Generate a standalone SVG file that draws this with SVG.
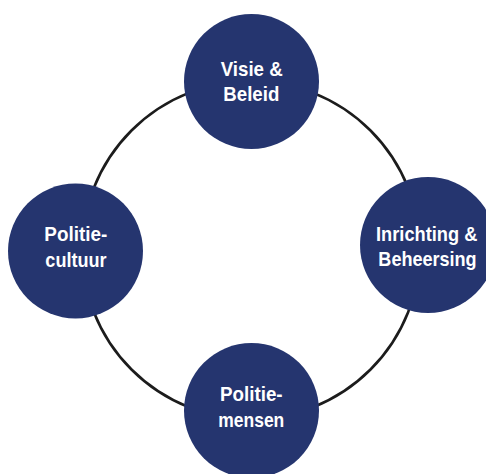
<svg xmlns="http://www.w3.org/2000/svg" width="486" height="474" viewBox="0 0 486 474">
  <style>
    .ring { fill: none; stroke: #1c1c1c; stroke-width: 2.6; }
    .node { fill: #25356f; }
    .label { fill: #ffffff; font-family: "Liberation Sans Narrow", "Liberation Sans", Arial, sans-serif; font-weight: bold; font-size: 21px; text-anchor: middle; }
  </style>
  <rect width="486" height="474" fill="#ffffff"/>

  <!-- cycle ring linking the four themes -->
  <g id="connectors">
    <circle class="ring" cx="251" cy="250" r="169"/>
  </g>

  <g id="node-visie">
    <circle class="node" cx="251.5" cy="81.5" r="67.5"/>
    <text class="label" x="251.7" y="76" textLength="62" lengthAdjust="spacingAndGlyphs">Visie &amp;</text>
    <text class="label" x="251.3" y="101" textLength="56" lengthAdjust="spacingAndGlyphs">Beleid</text>
  </g>

  <g id="node-cultuur">
    <circle class="node" cx="75.5" cy="251" r="67.5"/>
    <text class="label" x="75.8" y="241" textLength="63" lengthAdjust="spacingAndGlyphs">Politie-</text>
    <text class="label" x="76" y="266.7" textLength="61.3" lengthAdjust="spacingAndGlyphs">cultuur</text>
  </g>

  <g id="node-inrichting">
    <circle class="node" cx="428" cy="245" r="68"/>
    <text class="label" x="426.7" y="240.7" textLength="101.3" lengthAdjust="spacingAndGlyphs">Inrichting &amp;</text>
    <text class="label" x="427.5" y="265.7" textLength="98.3" lengthAdjust="spacingAndGlyphs">Beheersing</text>
  </g>

  <g id="node-mensen">
    <circle class="node" cx="251.5" cy="410.5" r="67.5"/>
    <text class="label" x="251.3" y="401" textLength="62.7" lengthAdjust="spacingAndGlyphs">Politie-</text>
    <text class="label" x="251.3" y="426.7" textLength="66" lengthAdjust="spacingAndGlyphs">mensen</text>
  </g>
</svg>
